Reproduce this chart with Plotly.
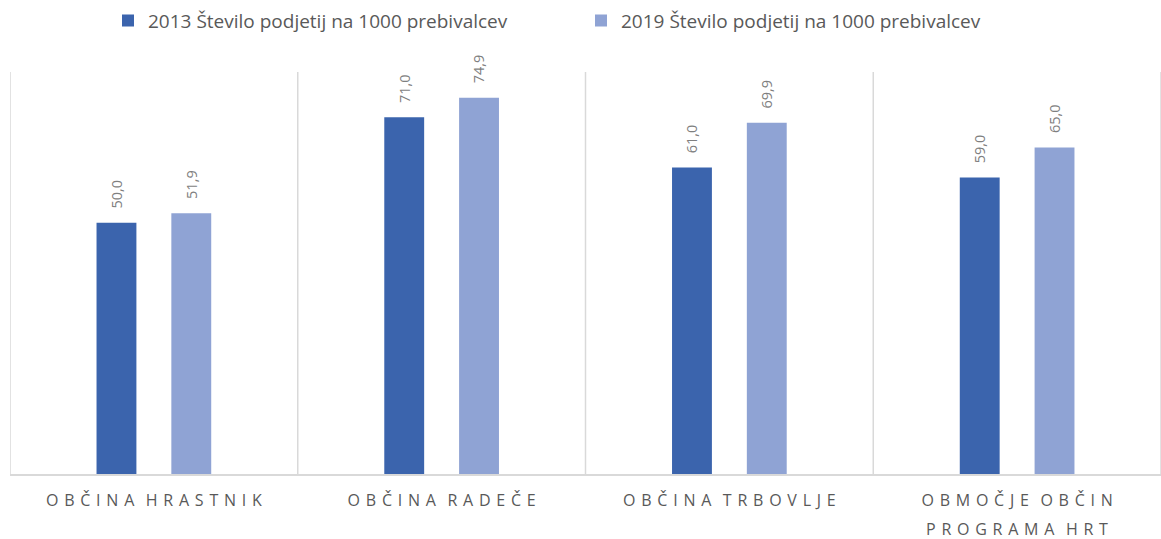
import plotly.graph_objects as go

categories = ["OBČINA HRASTNIK", "OBČINA RADEČE", "OBČINA TRBOVLJE", "OBMOČJE OBČIN"]
category_second_lines = ["", "", "", "PROGRAMA HRT"]
series_names = ["2013 Število podjetij na 1000 prebivalcev", "2019 Število podjetij na 1000 prebivalcev"]
values_2013 = [50.0, 71.0, 61.0, 59.0]
values_2019 = [51.9, 74.9, 69.9, 65.0]
colors = ["#3B64AD", "#8FA3D4"]

LS = "\u00a0\u200a"


def spaced(label):
    words = label.split(" ")
    return (LS * 2).join(LS.join(list(w)) for w in words)


tick_text = [spaced(c) for c in categories]
x_idx = list(range(len(categories)))

fig = go.Figure()
for name, vals, col in zip(series_names, [values_2013, values_2019], colors):
    fig.add_trace(go.Bar(
        x=x_idx, y=vals, name=name, marker=dict(color=col, line=dict(width=0)),
        texttemplate="\u00a0\u00a0\u00a0%{y:.1f}", textposition="outside", textangle=-90,
        textfont=dict(size=16, color="#7F7F7F", family="Open Sans"),
        cliponaxis=False,
    ))

fig.update_layout(
    width=1161, height=539,
    margin=dict(l=10, r=0, t=72, b=65),
    paper_bgcolor="white", plot_bgcolor="white",
    barmode="group", bargap=0.48, bargroupgap=0.467,
    separators=",.",
    font=dict(family="Open Sans", color="#595959"),
    legend=dict(orientation="h", xref="container", x=108 / 1161, xanchor="left",
                yref="container", y=0.997, yanchor="top",
                font=dict(size=19, color="#595959"),
                itemwidth=30, entrywidth=428, traceorder="normal"),
    showlegend=True,
)
fig.update_xaxes(
    tickmode="array", tickvals=x_idx, ticktext=tick_text,
    range=[-0.5, len(categories) - 0.5],
    showgrid=False, zeroline=False, showline=True, linecolor="#D9D9D9", linewidth=1.5,
    ticks="", tickfont=dict(size=16, color="#595959"), ticklabelstandoff=11,
)
fig.update_yaxes(range=[0, 80], showgrid=False, zeroline=False, showticklabels=False, showline=False)

for i in range(len(categories) + 1):
    fig.add_shape(type="line", xref="x", yref="y", x0=i - 0.5, x1=i - 0.5, y0=0, y1=80,
                  line=dict(color="#D9D9D9", width=1.5), layer="below")

for i, line2 in enumerate(category_second_lines):
    if line2:
        fig.add_annotation(x=i, xref="x", y=0, yref="paper", yanchor="middle",
                           yshift=-55, text=spaced(line2), showarrow=False,
                           font=dict(size=16, color="#595959"))

fig.write_html("out.html", config={"displayModeBar": False},
               post_script="document.body.style.margin='0';")
